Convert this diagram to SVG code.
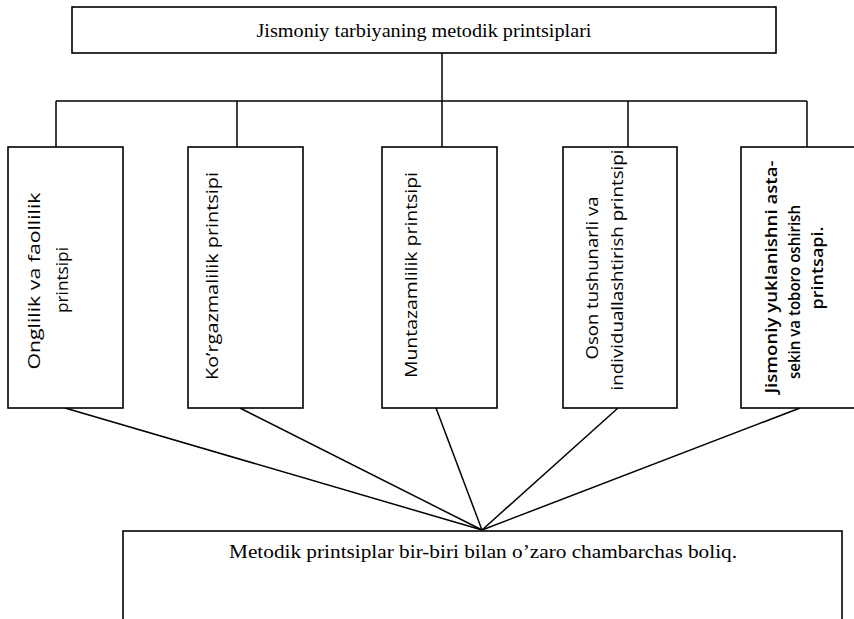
<svg xmlns="http://www.w3.org/2000/svg" width="854" height="619" viewBox="0 0 854 619">
  <style>
    .box { fill: #ffffff; stroke: #000000; stroke-width: 1.6; }
    .wire { fill: none; stroke: #000000; stroke-width: 1.5; }
    .serif { font-family: "Liberation Serif", "Times New Roman", serif; font-size: 19px; fill: #000000; text-anchor: middle; }
    .vlabel { font-family: "Open Sans", "Noto Sans", sans-serif; font-size: 17px; fill: #000000; text-anchor: middle; }
    .heavy { font-weight: 600; }
  </style>
  <rect width="854" height="619" fill="#ffffff"/>

  <g id="connectors">
    <!-- title to bus -->
    <line class="wire" x1="442" y1="53" x2="442" y2="101"/>
    <!-- horizontal bus -->
    <line class="wire" x1="56" y1="101" x2="807" y2="101"/>
    <!-- bus drops -->
    <line class="wire" x1="56" y1="101" x2="56" y2="147"/>
    <line class="wire" x1="237" y1="101" x2="237" y2="147"/>
    <line class="wire" x1="442" y1="101" x2="442" y2="147"/>
    <line class="wire" x1="628" y1="101" x2="628" y2="147"/>
    <line class="wire" x1="807" y1="101" x2="807" y2="147"/>
    <!-- fan-in to the summary box -->
    <line class="wire" x1="65" y1="408" x2="482" y2="530"/>
    <line class="wire" x1="240" y1="408" x2="482" y2="530"/>
    <line class="wire" x1="436" y1="408" x2="482" y2="530"/>
    <line class="wire" x1="618" y1="408" x2="482" y2="530"/>
    <line class="wire" x1="800" y1="408" x2="482" y2="530"/>
  </g>

  <g id="title">
    <rect class="box" x="72" y="7" width="704" height="46"/>
    <text class="serif" x="424" y="37" textLength="335" lengthAdjust="spacingAndGlyphs">Jismoniy tarbiyaning metodik printsiplari</text>
  </g>

  <g id="onglilik">
    <rect class="box" x="8" y="147" width="115" height="261"/>
    <text class="vlabel" transform="translate(40,281) rotate(-90)" textLength="177" lengthAdjust="spacingAndGlyphs">Onglilik va faollilik</text>
    <text class="vlabel" transform="translate(68,280) rotate(-90)" textLength="66" lengthAdjust="spacingAndGlyphs">printsipi</text>
  </g>

  <g id="korgazmalilik">
    <rect class="box" x="188" y="147" width="115" height="261"/>
    <text class="vlabel" transform="translate(218,276) rotate(-90)" textLength="208" lengthAdjust="spacingAndGlyphs">Ko’rgazmalilik printsipi</text>
  </g>

  <g id="muntazamlilik">
    <rect class="box" x="382" y="147" width="115" height="261"/>
    <text class="vlabel" transform="translate(417,275) rotate(-90)" textLength="206" lengthAdjust="spacingAndGlyphs">Muntazamlilik printsipi</text>
  </g>

  <g id="oson">
    <rect class="box" x="563" y="147" width="114" height="261"/>
    <text class="vlabel" transform="translate(598,278) rotate(-90)" textLength="163" lengthAdjust="spacingAndGlyphs">Oson tushunarli va</text>
    <text class="vlabel" transform="translate(623,270) rotate(-90)" textLength="241" lengthAdjust="spacingAndGlyphs">individuallashtirish printsipi</text>
  </g>

  <g id="yuklanish">
    <rect class="box" x="741" y="147" width="120" height="261"/>
    <text class="vlabel heavy" transform="translate(777,277) rotate(-90)" textLength="233" lengthAdjust="spacingAndGlyphs">Jismoniy yuklanishni asta-</text>
    <text class="vlabel heavy" transform="translate(800,292) rotate(-90)" textLength="174" lengthAdjust="spacingAndGlyphs">sekin va toboro oshirish</text>
    <text class="vlabel heavy" transform="translate(823,268) rotate(-90)" textLength="83" lengthAdjust="spacingAndGlyphs">printsapi.</text>
  </g>

  <g id="summary">
    <rect class="box" x="123" y="531" width="719" height="100"/>
    <text class="serif" x="483" y="558" textLength="508" lengthAdjust="spacingAndGlyphs">Metodik printsiplar bir-biri bilan o’zaro chambarchas boliq.</text>
  </g>
</svg>
